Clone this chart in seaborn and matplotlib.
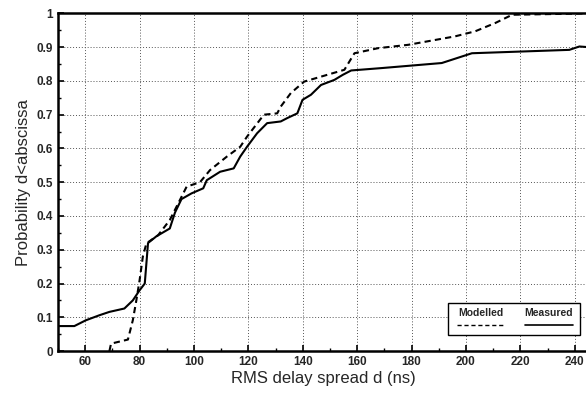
import numpy as np
import pandas as pd
import matplotlib
matplotlib.use("Agg")
import matplotlib.pyplot as plt
from matplotlib.ticker import MultipleLocator
import seaborn as sns

# Measured CDF (solid)
measured_d = [50, 56, 60.2, 65.2, 68.9, 74.4, 77.5, 80, 81.9, 83.1, 86.2, 91.1, 93, 95.4,
              99.1, 103.4, 104.7, 109.6, 114.6, 117, 119.5, 123.2, 126.9, 131.9, 134.3,
              138, 139.9, 143, 146.7, 151.6, 154.7, 157.8, 168.9, 191.1, 202.2, 238,
              241.7, 245]
measured_p = [0.074, 0.074, 0.091, 0.106, 0.116, 0.126, 0.15, 0.18, 0.2, 0.32, 0.34, 0.363,
              0.41, 0.45, 0.467, 0.482, 0.506, 0.531, 0.541, 0.576, 0.605, 0.645, 0.675,
              0.68, 0.69, 0.704, 0.744, 0.759, 0.788, 0.803, 0.818, 0.831, 0.838, 0.853,
              0.882, 0.892, 0.902, 0.90]

# Modelled CDF (dashed)
modelled_d = [68.9, 69.5, 75.7, 77.5, 78.8, 80, 81.2, 82.5, 86.8, 91.1, 94.8, 97.3, 102.2,
              105.9, 112.1, 117, 119.5, 125.7, 130.6, 131.9, 135.6, 140.5, 155.3, 159,
              167.7, 178.8, 196, 203.4, 210.9, 217, 245]
modelled_p = [0.0, 0.022, 0.034, 0.091, 0.15, 0.21, 0.28, 0.319, 0.343, 0.388, 0.447, 0.487,
              0.50, 0.536, 0.576, 0.605, 0.635, 0.70, 0.704, 0.724, 0.764, 0.798, 0.833,
              0.882, 0.897, 0.907, 0.932, 0.947, 0.972, 0.996, 1.0]

x_ticks = list(range(60, 241, 20))
y_ticks = [round(0.1 * i, 1) for i in range(11)]
y_labels = ["0"] + [f"{v:.1f}" for v in y_ticks[1:-1]] + ["1"]

df_meas = pd.DataFrame({"d": measured_d, "p": measured_p})
df_mod = pd.DataFrame({"d": modelled_d, "p": modelled_p})

sns.set_style("ticks")
plt.rcParams["font.family"] = ["Liberation Sans", "DejaVu Sans"]

fig = plt.figure(figsize=(5.86, 3.94), dpi=100)
ax = fig.add_axes([0.099, 0.109, 0.905, 0.857])

sns.lineplot(data=df_mod, x="d", y="p", ax=ax, color="black", lw=1.5,
             linestyle=(0, (3, 2)), estimator=None, sort=False)
sns.lineplot(data=df_meas, x="d", y="p", ax=ax, color="black", lw=1.5,
             estimator=None, sort=False)

ax.set_xlim(50, 245)
ax.set_ylim(0, 1)
ax.set_xticks(x_ticks)
ax.set_xticklabels([str(v) for v in x_ticks], fontweight="bold", fontsize=8.5)
ax.set_yticks(y_ticks)
ax.set_yticklabels(y_labels, fontweight="bold", fontsize=8.5)
ax.xaxis.set_minor_locator(MultipleLocator(10))
ax.yaxis.set_minor_locator(MultipleLocator(0.05))
ax.tick_params(which="both", direction="in", color="black")
ax.tick_params(which="major", length=4, width=1.2)
ax.tick_params(which="minor", length=2.5, width=1)
ax.grid(True, which="major", linestyle=(0, (1, 2)), color="#555555", lw=0.7)

for s in ["top", "left", "bottom"]:
    ax.spines[s].set_visible(True)
    ax.spines[s].set_linewidth(1.8)
    ax.spines[s].set_color("black")
ax.spines["right"].set_visible(False)

ax.set_xlabel("RMS delay spread d (ns)", fontsize=12, labelpad=2)
ax.set_ylabel("Probability d<abscissa", fontsize=12, labelpad=4)

# legend box: labels above line samples
box = plt.Rectangle((0.735, 0.049), 0.25, 0.094, transform=ax.transAxes,
                    facecolor="white", edgecolor="black", lw=1.0, zorder=5)
ax.add_patch(box)
ax.text(0.797, 0.112, "Modelled", transform=ax.transAxes, ha="center", va="center",
        fontsize=7.5, fontweight="bold", zorder=6)
ax.text(0.925, 0.112, "Measured", transform=ax.transAxes, ha="center", va="center",
        fontsize=7.5, fontweight="bold", zorder=6)
ax.plot([0.752, 0.843], [0.077, 0.077], transform=ax.transAxes, color="black",
        lw=1.0, linestyle=(0, (3, 2)), zorder=6)
ax.plot([0.88, 0.972], [0.077, 0.077], transform=ax.transAxes, color="black",
        lw=1.2, zorder=6)

fig.savefig("out.png", dpi=100)
